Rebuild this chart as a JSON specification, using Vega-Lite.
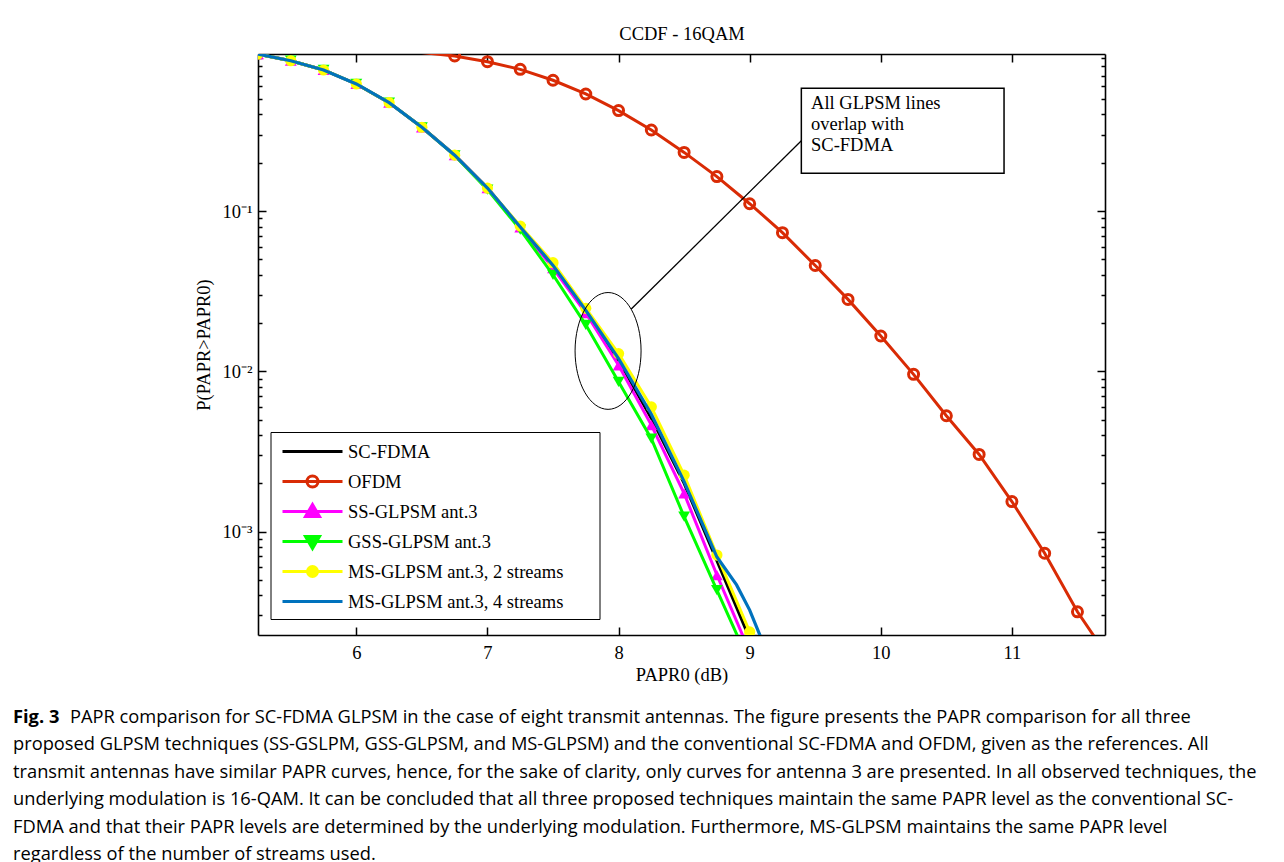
{
  "$schema": "https://vega.github.io/schema/vega-lite/v6.json",
  "width": 847,
  "height": 581,
  "autosize": "none",
  "padding": {"left": 258, "top": 54, "right": 179, "bottom": 227},
  "background": "white",
  "title": {
    "text": "Fig. 3",
    "subtitle": [
      "\u200b\u00a0\u00a0\u00a0\u00a0\u00a0\u00a0\u00a0\u00a0\u00a0\u00a0\u00a0\u00a0PAPR comparison for SC-FDMA GLPSM in the case of eight transmit antennas. The figure presents the PAPR comparison for all three",
      "proposed GLPSM techniques (SS-GSLPM, GSS-GLPSM, and MS-GLPSM) and the conventional SC-FDMA and OFDM, given as the references. All",
      "transmit antennas have similar PAPR curves, hence, for the sake of clarity, only curves for antenna 3 are presented. In all observed techniques, the",
      "underlying modulation is 16-QAM. It can be concluded that all three proposed techniques maintain the same PAPR level as the conventional SC-",
      "FDMA and that their PAPR levels are determined by the underlying modulation. Furthermore, MS-GLPSM maintains the same PAPR level",
      "regardless of the number of streams used."
    ],
    "orient": "bottom",
    "anchor": "start",
    "frame": "group",
    "dx": -245,
    "offset": 25,
    "font": "Open Sans",
    "fontSize": 18.3,
    "fontWeight": "bold",
    "color": "black",
    "subtitleFont": "Open Sans",
    "subtitleFontSize": 18.3,
    "subtitleFontWeight": "normal",
    "subtitleColor": "black",
    "subtitleLineHeight": 27.4,
    "subtitlePadding": -18.3
  },
  "datasets": {
    "curves": [
      {"s": "SC-FDMA", "x": 5.25, "p": 0.952},
      {"s": "SC-FDMA", "x": 5.5, "p": 0.866},
      {"s": "SC-FDMA", "x": 5.75, "p": 0.758},
      {"s": "SC-FDMA", "x": 6.0, "p": 0.62},
      {"s": "SC-FDMA", "x": 6.25, "p": 0.474},
      {"s": "SC-FDMA", "x": 6.5, "p": 0.333},
      {"s": "SC-FDMA", "x": 6.75, "p": 0.223},
      {"s": "SC-FDMA", "x": 7.0, "p": 0.139},
      {"s": "SC-FDMA", "x": 7.25, "p": 0.079},
      {"s": "SC-FDMA", "x": 7.5, "p": 0.0455},
      {"s": "SC-FDMA", "x": 7.75, "p": 0.0238},
      {"s": "SC-FDMA", "x": 8.0, "p": 0.0117},
      {"s": "SC-FDMA", "x": 8.25, "p": 0.0051},
      {"s": "SC-FDMA", "x": 8.5, "p": 0.002},
      {"s": "SC-FDMA", "x": 8.75, "p": 0.00066},
      {"s": "SC-FDMA", "x": 9.0, "p": 0.000215},
      {"s": "SC-FDMA", "x": 9.25, "p": 0.00006},

      {"s": "OFDM", "x": 6.5, "p": 0.973},
      {"s": "OFDM", "x": 6.75, "p": 0.927},
      {"s": "OFDM", "x": 7.0, "p": 0.854},
      {"s": "OFDM", "x": 7.25, "p": 0.765},
      {"s": "OFDM", "x": 7.5, "p": 0.654},
      {"s": "OFDM", "x": 7.75, "p": 0.537},
      {"s": "OFDM", "x": 8.0, "p": 0.423},
      {"s": "OFDM", "x": 8.25, "p": 0.32},
      {"s": "OFDM", "x": 8.5, "p": 0.232},
      {"s": "OFDM", "x": 8.75, "p": 0.164},
      {"s": "OFDM", "x": 9.0, "p": 0.111},
      {"s": "OFDM", "x": 9.25, "p": 0.0733},
      {"s": "OFDM", "x": 9.5, "p": 0.0457},
      {"s": "OFDM", "x": 9.75, "p": 0.0281},
      {"s": "OFDM", "x": 10.0, "p": 0.0166},
      {"s": "OFDM", "x": 10.25, "p": 0.00957},
      {"s": "OFDM", "x": 10.5, "p": 0.00528},
      {"s": "OFDM", "x": 10.75, "p": 0.00303},
      {"s": "OFDM", "x": 11.0, "p": 0.00154},
      {"s": "OFDM", "x": 11.25, "p": 0.000733},
      {"s": "OFDM", "x": 11.5, "p": 0.000316},
      {"s": "OFDM", "x": 11.75, "p": 0.000158},

      {"s": "SS-GLPSM ant.3", "x": 5.25, "p": 0.952},
      {"s": "SS-GLPSM ant.3", "x": 5.5, "p": 0.866},
      {"s": "SS-GLPSM ant.3", "x": 5.75, "p": 0.758},
      {"s": "SS-GLPSM ant.3", "x": 6.0, "p": 0.62},
      {"s": "SS-GLPSM ant.3", "x": 6.25, "p": 0.474},
      {"s": "SS-GLPSM ant.3", "x": 6.5, "p": 0.333},
      {"s": "SS-GLPSM ant.3", "x": 6.75, "p": 0.223},
      {"s": "SS-GLPSM ant.3", "x": 7.0, "p": 0.139},
      {"s": "SS-GLPSM ant.3", "x": 7.25, "p": 0.079},
      {"s": "SS-GLPSM ant.3", "x": 7.5, "p": 0.0441},
      {"s": "SS-GLPSM ant.3", "x": 7.75, "p": 0.0231},
      {"s": "SS-GLPSM ant.3", "x": 8.0, "p": 0.0109},
      {"s": "SS-GLPSM ant.3", "x": 8.25, "p": 0.00462},
      {"s": "SS-GLPSM ant.3", "x": 8.5, "p": 0.00173},
      {"s": "SS-GLPSM ant.3", "x": 8.75, "p": 0.000536},
      {"s": "SS-GLPSM ant.3", "x": 9.0, "p": 0.000178},

      {"s": "GSS-GLPSM ant.3", "x": 5.25, "p": 0.952},
      {"s": "GSS-GLPSM ant.3", "x": 5.5, "p": 0.866},
      {"s": "GSS-GLPSM ant.3", "x": 5.75, "p": 0.758},
      {"s": "GSS-GLPSM ant.3", "x": 6.0, "p": 0.62},
      {"s": "GSS-GLPSM ant.3", "x": 6.25, "p": 0.474},
      {"s": "GSS-GLPSM ant.3", "x": 6.5, "p": 0.333},
      {"s": "GSS-GLPSM ant.3", "x": 6.75, "p": 0.222},
      {"s": "GSS-GLPSM ant.3", "x": 7.0, "p": 0.136},
      {"s": "GSS-GLPSM ant.3", "x": 7.25, "p": 0.0765},
      {"s": "GSS-GLPSM ant.3", "x": 7.5, "p": 0.04},
      {"s": "GSS-GLPSM ant.3", "x": 7.75, "p": 0.0195},
      {"s": "GSS-GLPSM ant.3", "x": 8.0, "p": 0.0086},
      {"s": "GSS-GLPSM ant.3", "x": 8.25, "p": 0.0038},
      {"s": "GSS-GLPSM ant.3", "x": 8.5, "p": 0.00124},
      {"s": "GSS-GLPSM ant.3", "x": 8.75, "p": 0.000432},
      {"s": "GSS-GLPSM ant.3", "x": 9.0, "p": 0.000151},

      {"s": "MS-GLPSM ant.3, 2 streams", "x": 5.25, "p": 0.952},
      {"s": "MS-GLPSM ant.3, 2 streams", "x": 5.5, "p": 0.866},
      {"s": "MS-GLPSM ant.3, 2 streams", "x": 5.75, "p": 0.758},
      {"s": "MS-GLPSM ant.3, 2 streams", "x": 6.0, "p": 0.62},
      {"s": "MS-GLPSM ant.3, 2 streams", "x": 6.25, "p": 0.474},
      {"s": "MS-GLPSM ant.3, 2 streams", "x": 6.5, "p": 0.333},
      {"s": "MS-GLPSM ant.3, 2 streams", "x": 6.75, "p": 0.223},
      {"s": "MS-GLPSM ant.3, 2 streams", "x": 7.0, "p": 0.139},
      {"s": "MS-GLPSM ant.3, 2 streams", "x": 7.25, "p": 0.0806},
      {"s": "MS-GLPSM ant.3, 2 streams", "x": 7.5, "p": 0.0476},
      {"s": "MS-GLPSM ant.3, 2 streams", "x": 7.75, "p": 0.0247},
      {"s": "MS-GLPSM ant.3, 2 streams", "x": 8.0, "p": 0.0129},
      {"s": "MS-GLPSM ant.3, 2 streams", "x": 8.25, "p": 0.006},
      {"s": "MS-GLPSM ant.3, 2 streams", "x": 8.5, "p": 0.00225},
      {"s": "MS-GLPSM ant.3, 2 streams", "x": 8.75, "p": 0.000714},
      {"s": "MS-GLPSM ant.3, 2 streams", "x": 9.0, "p": 0.000237},
      {"s": "MS-GLPSM ant.3, 2 streams", "x": 9.25, "p": 0.00008},

      {"s": "MS-GLPSM ant.3, 4 streams", "x": 5.25, "p": 0.952},
      {"s": "MS-GLPSM ant.3, 4 streams", "x": 5.5, "p": 0.866},
      {"s": "MS-GLPSM ant.3, 4 streams", "x": 5.75, "p": 0.758},
      {"s": "MS-GLPSM ant.3, 4 streams", "x": 6.0, "p": 0.62},
      {"s": "MS-GLPSM ant.3, 4 streams", "x": 6.25, "p": 0.474},
      {"s": "MS-GLPSM ant.3, 4 streams", "x": 6.5, "p": 0.333},
      {"s": "MS-GLPSM ant.3, 4 streams", "x": 6.75, "p": 0.223},
      {"s": "MS-GLPSM ant.3, 4 streams", "x": 7.0, "p": 0.139},
      {"s": "MS-GLPSM ant.3, 4 streams", "x": 7.25, "p": 0.0795},
      {"s": "MS-GLPSM ant.3, 4 streams", "x": 7.5, "p": 0.0458},
      {"s": "MS-GLPSM ant.3, 4 streams", "x": 7.75, "p": 0.024},
      {"s": "MS-GLPSM ant.3, 4 streams", "x": 8.0, "p": 0.012},
      {"s": "MS-GLPSM ant.3, 4 streams", "x": 8.25, "p": 0.0054},
      {"s": "MS-GLPSM ant.3, 4 streams", "x": 8.5, "p": 0.00205},
      {"s": "MS-GLPSM ant.3, 4 streams", "x": 8.75, "p": 0.000694},
      {"s": "MS-GLPSM ant.3, 4 streams", "x": 8.9, "p": 0.000465},
      {"s": "MS-GLPSM ant.3, 4 streams", "x": 9.0, "p": 0.000324},
      {"s": "MS-GLPSM ant.3, 4 streams", "x": 9.15, "p": 0.000162}
    ],
    "ellipse": [{"x": 7.92, "p": 0.0134}],
    "pointer": [{"x": 8.095, "p": 0.02437, "x2": 9.394, "p2": 0.2746}],
    "box": [{"x": 9.394, "x2": 10.94, "p": 0.5826, "p2": 0.1719}],
    "note": [{"x": 9.468, "p": 0.4309, "text": "All GLPSM lines\noverlap with\nSC-FDMA"}]
  },
  "resolve": {"axis": {"x": "independent", "y": "independent"}},
  "layer": [
    {
      "data": {"name": "curves"},
      "transform": [{"filter": "datum.s === 'SC-FDMA'"}],
      "mark": {"type": "line", "color": "black", "strokeWidth": 3, "clip": true},
      "encoding": {
        "x": {"field": "x", "type": "quantitative", "scale": {"domain": [5.25, 11.71], "zero": false, "nice": false},
          "axis": {"orient": "bottom", "values": [6, 7, 8, 9, 10, 11], "format": "d", "tickSize": -8, "labelPadding": 16, "title": "PAPR0 (dB)", "titlePadding": 4}},
        "y": {"field": "p", "type": "quantitative", "scale": {"type": "log", "domain": [0.0002265, 0.9537], "nice": false},
          "axis": {"orient": "left", "title": "P(PAPR>PAPR0)", "titlePadding": 8,
            "values": [0.0003, 0.0004, 0.0005, 0.0006, 0.0007, 0.0008, 0.0009, 0.001, 0.002, 0.003, 0.004, 0.005, 0.006, 0.007, 0.008, 0.009, 0.01, 0.02, 0.03, 0.04, 0.05, 0.06, 0.07, 0.08, 0.09, 0.1, 0.2, 0.3, 0.4, 0.5, 0.6, 0.7, 0.8, 0.9],
            "tickSize": {"condition": {"test": "abs(log(datum.value)/LN10 - round(log(datum.value)/LN10)) < 0.001", "value": -8}, "value": -4},
            "labelPadding": 14,
            "labelExpr": "abs(log(datum.value)/LN10 - round(log(datum.value)/LN10)) < 0.001 ? ('10' + (round(log(datum.value)/LN10) == -1 ? '⁻¹' : round(log(datum.value)/LN10) == -2 ? '⁻²' : '⁻³')) : ''"}}
      }
    },
    {
      "data": {"name": "curves"},
      "transform": [{"filter": "datum.s === 'OFDM'"}],
      "mark": {"type": "line", "color": "#D92B05", "strokeWidth": 3, "clip": true},
      "encoding": {
        "x": {"field": "x", "type": "quantitative", "scale": {"domain": [5.25, 11.71], "zero": false, "nice": false},
          "axis": {"orient": "top", "values": [6, 7, 8, 9, 10, 11], "labels": false, "tickSize": -8, "title": "CCDF - 16QAM", "titlePadding": 10}},
        "y": {"field": "p", "type": "quantitative", "scale": {"type": "log", "domain": [0.0002265, 0.9537], "nice": false},
          "axis": {"orient": "right", "title": null, "labels": false,
            "values": [0.0003, 0.0004, 0.0005, 0.0006, 0.0007, 0.0008, 0.0009, 0.001, 0.002, 0.003, 0.004, 0.005, 0.006, 0.007, 0.008, 0.009, 0.01, 0.02, 0.03, 0.04, 0.05, 0.06, 0.07, 0.08, 0.09, 0.1, 0.2, 0.3, 0.4, 0.5, 0.6, 0.7, 0.8, 0.9],
            "tickSize": {"condition": {"test": "abs(log(datum.value)/LN10 - round(log(datum.value)/LN10)) < 0.001", "value": -8}, "value": -4}}}
      }
    },
    {
      "data": {"name": "curves"},
      "transform": [{"filter": "datum.s === 'OFDM' && datum.x > 6.7"}],
      "mark": {"type": "point", "shape": "circle", "filled": false, "color": "#D92B05", "strokeWidth": 3, "size": 100, "opacity": 1, "clip": true},
      "encoding": {
        "x": {"field": "x", "type": "quantitative", "scale": {"domain": [5.25, 11.71], "zero": false, "nice": false}, "axis": null},
        "y": {"field": "p", "type": "quantitative", "scale": {"type": "log", "domain": [0.0002265, 0.9537], "nice": false}, "axis": null}
      }
    },
    {
      "data": {"name": "curves"},
      "transform": [{"filter": "datum.s === 'SS-GLPSM ant.3'"}],
      "mark": {"type": "line", "color": "#FF00FF", "strokeWidth": 3, "clip": true},
      "encoding": {
        "x": {"field": "x", "type": "quantitative", "scale": {"domain": [5.25, 11.71], "zero": false, "nice": false}, "axis": null},
        "y": {"field": "p", "type": "quantitative", "scale": {"type": "log", "domain": [0.0002265, 0.9537], "nice": false}, "axis": null}
      }
    },
    {
      "data": {"name": "curves"},
      "transform": [{"filter": "datum.s === 'SS-GLPSM ant.3'"}],
      "mark": {"type": "point", "shape": "triangle-up", "filled": true, "color": "#FF00FF", "size": 140, "opacity": 1, "clip": true},
      "encoding": {
        "x": {"field": "x", "type": "quantitative", "scale": {"domain": [5.25, 11.71], "zero": false, "nice": false}, "axis": null},
        "y": {"field": "p", "type": "quantitative", "scale": {"type": "log", "domain": [0.0002265, 0.9537], "nice": false}, "axis": null}
      }
    },
    {
      "data": {"name": "curves"},
      "transform": [{"filter": "datum.s === 'GSS-GLPSM ant.3'"}],
      "mark": {"type": "line", "color": "#00FF00", "strokeWidth": 3, "clip": true},
      "encoding": {
        "x": {"field": "x", "type": "quantitative", "scale": {"domain": [5.25, 11.71], "zero": false, "nice": false}, "axis": null},
        "y": {"field": "p", "type": "quantitative", "scale": {"type": "log", "domain": [0.0002265, 0.9537], "nice": false}, "axis": null}
      }
    },
    {
      "data": {"name": "curves"},
      "transform": [{"filter": "datum.s === 'GSS-GLPSM ant.3'"}],
      "mark": {"type": "point", "shape": "triangle-down", "filled": true, "color": "#00FF00", "size": 140, "opacity": 1, "clip": true},
      "encoding": {
        "x": {"field": "x", "type": "quantitative", "scale": {"domain": [5.25, 11.71], "zero": false, "nice": false}, "axis": null},
        "y": {"field": "p", "type": "quantitative", "scale": {"type": "log", "domain": [0.0002265, 0.9537], "nice": false}, "axis": null}
      }
    },
    {
      "data": {"name": "curves"},
      "transform": [{"filter": "datum.s === 'MS-GLPSM ant.3, 2 streams'"}],
      "mark": {"type": "line", "color": "#FFFF00", "strokeWidth": 3, "clip": true},
      "encoding": {
        "x": {"field": "x", "type": "quantitative", "scale": {"domain": [5.25, 11.71], "zero": false, "nice": false}, "axis": null},
        "y": {"field": "p", "type": "quantitative", "scale": {"type": "log", "domain": [0.0002265, 0.9537], "nice": false}, "axis": null}
      }
    },
    {
      "data": {"name": "curves"},
      "transform": [{"filter": "datum.s === 'MS-GLPSM ant.3, 2 streams'"}],
      "mark": {"type": "point", "shape": "circle", "filled": true, "color": "#FFFF00", "size": 125, "opacity": 1, "clip": true},
      "encoding": {
        "x": {"field": "x", "type": "quantitative", "scale": {"domain": [5.25, 11.71], "zero": false, "nice": false}, "axis": null},
        "y": {"field": "p", "type": "quantitative", "scale": {"type": "log", "domain": [0.0002265, 0.9537], "nice": false}, "axis": null}
      }
    },
    {
      "data": {"name": "curves"},
      "transform": [{"filter": "datum.s === 'MS-GLPSM ant.3, 4 streams'"}],
      "mark": {"type": "line", "color": "#0072BD", "strokeWidth": 3.2, "clip": true},
      "encoding": {
        "x": {"field": "x", "type": "quantitative", "scale": {"domain": [5.25, 11.71], "zero": false, "nice": false}, "axis": null},
        "y": {"field": "p", "type": "quantitative", "scale": {"type": "log", "domain": [0.0002265, 0.9537], "nice": false}, "axis": null}
      }
    },
    {
      "data": {"name": "ellipse"},
      "mark": {"type": "point", "shape": "M-1,0A1,1.77,0,1,1,1,0A1,1.77,0,1,1,-1,0Z", "filled": false, "color": "black", "strokeWidth": 1, "size": 4356, "opacity": 1},
      "encoding": {
        "x": {"field": "x", "type": "quantitative", "scale": {"domain": [5.25, 11.71], "zero": false, "nice": false}, "axis": null},
        "y": {"field": "p", "type": "quantitative", "scale": {"type": "log", "domain": [0.0002265, 0.9537], "nice": false}, "axis": null}
      }
    },
    {
      "data": {"name": "pointer"},
      "mark": {"type": "rule", "color": "black", "strokeWidth": 1.3},
      "encoding": {
        "x": {"field": "x", "type": "quantitative", "scale": {"domain": [5.25, 11.71], "zero": false, "nice": false}, "axis": null},
        "x2": {"field": "x2"},
        "y": {"field": "p", "type": "quantitative", "scale": {"type": "log", "domain": [0.0002265, 0.9537], "nice": false}, "axis": null},
        "y2": {"field": "p2"}
      }
    },
    {
      "data": {"name": "box"},
      "mark": {"type": "rect", "fill": "white", "stroke": "black", "strokeWidth": 1.5},
      "encoding": {
        "x": {"field": "x", "type": "quantitative", "scale": {"domain": [5.25, 11.71], "zero": false, "nice": false}, "axis": null},
        "x2": {"field": "x2"},
        "y": {"field": "p", "type": "quantitative", "scale": {"type": "log", "domain": [0.0002265, 0.9537], "nice": false}, "axis": null},
        "y2": {"field": "p2"}
      }
    },
    {
      "data": {"name": "note"},
      "mark": {"type": "text", "align": "left", "baseline": "alphabetic", "font": "Liberation Serif", "fontSize": 18.5, "lineHeight": 21, "lineBreak": "\n", "color": "black"},
      "encoding": {
        "x": {"field": "x", "type": "quantitative", "scale": {"domain": [5.25, 11.71], "zero": false, "nice": false}, "axis": null},
        "y": {"field": "p", "type": "quantitative", "scale": {"type": "log", "domain": [0.0002265, 0.9537], "nice": false}, "axis": null},
        "text": {"field": "text"}
      }
    },
    {
      "data": {"name": "curves"},
      "transform": [{"filter": "datum.x > 100"}],
      "mark": {"type": "point", "opacity": 1},
      "encoding": {
        "stroke": {"field": "s", "type": "nominal",
          "scale": {"domain": ["SC-FDMA", "OFDM", "SS-GLPSM ant.3", "GSS-GLPSM ant.3", "MS-GLPSM ant.3, 2 streams", "MS-GLPSM ant.3, 4 streams"],
                    "range": ["black", "#D92B05", "#FF00FF", "#00FF00", "#FFFF00", "#0072BD"]},
          "legend": {"title": null, "orient": "none", "legendX": 12.5, "legendY": 378, "labelFont": "Liberation Serif", "labelFontSize": 18.5, "labelColor": "black", "labelLimit": 600, "symbolSize": 400, "symbolStrokeWidth": 3, "symbolOffset": 22.5, "labelOffset": 24, "rowPadding": 3, "gridAlign": "all", "padding": 8, "strokeColor": "black", "fillColor": "white", "labelExpr": "datum.label + '\u00a0\u00a0\u00a0\u00a0\u00a0\u00a0\u200b'"}},
        "fill": {"field": "s", "type": "nominal",
          "scale": {"domain": ["SC-FDMA", "OFDM", "SS-GLPSM ant.3", "GSS-GLPSM ant.3", "MS-GLPSM ant.3, 2 streams", "MS-GLPSM ant.3, 4 streams"],
                    "range": ["transparent", "transparent", "#FF00FF", "#00FF00", "#FFFF00", "transparent"]},
          "legend": {"title": null, "orient": "none", "legendX": 12.5, "legendY": 378, "labelFont": "Liberation Serif", "labelFontSize": 18.5, "labelColor": "black", "labelLimit": 600, "symbolSize": 400, "symbolStrokeWidth": 3, "symbolOffset": 22.5, "labelOffset": 24, "rowPadding": 3, "gridAlign": "all", "padding": 8, "strokeColor": "black", "fillColor": "white", "labelExpr": "datum.label + '\u00a0\u00a0\u00a0\u00a0\u00a0\u00a0\u200b'"}},
        "shape": {"field": "s", "type": "nominal",
          "scale": {"domain": ["SC-FDMA", "OFDM", "SS-GLPSM ant.3", "GSS-GLPSM ant.3", "MS-GLPSM ant.3, 2 streams", "MS-GLPSM ant.3, 4 streams"],
                    "range": ["M-3,0H3", "M-3,0H3M-0.55,0A0.55,0.55,0,1,0,0.55,0A0.55,0.55,0,1,0,-0.55,0", "M-3,0H3M0,-0.7L0.7,0.5L-0.7,0.5Z", "M-3,0H3M0,0.7L0.7,-0.5L-0.7,-0.5Z", "M-3,0H3M-0.5,0A0.5,0.5,0,1,0,0.5,0A0.5,0.5,0,1,0,-0.5,0", "M-3,0H3"]},
          "legend": {"title": null, "orient": "none", "legendX": 12.5, "legendY": 378, "labelFont": "Liberation Serif", "labelFontSize": 18.5, "labelColor": "black", "labelLimit": 600, "symbolSize": 400, "symbolStrokeWidth": 3, "symbolOffset": 22.5, "labelOffset": 24, "rowPadding": 3, "gridAlign": "all", "padding": 8, "strokeColor": "black", "fillColor": "white", "labelExpr": "datum.label + '\u00a0\u00a0\u00a0\u00a0\u00a0\u00a0\u200b'"}}
      }
    }
  ],
  "config": {
    "view": {"stroke": null},
    "axis": {
      "domainColor": "black", "domainWidth": 1.6, "tickColor": "black", "tickWidth": 1.5,
      "labelFont": "Liberation Serif", "labelFontSize": 18.5, "labelColor": "black",
      "titleFont": "Liberation Serif", "titleFontSize": 18.5, "titleFontWeight": "normal", "titleColor": "black",
      "grid": false
    }
  }
}
